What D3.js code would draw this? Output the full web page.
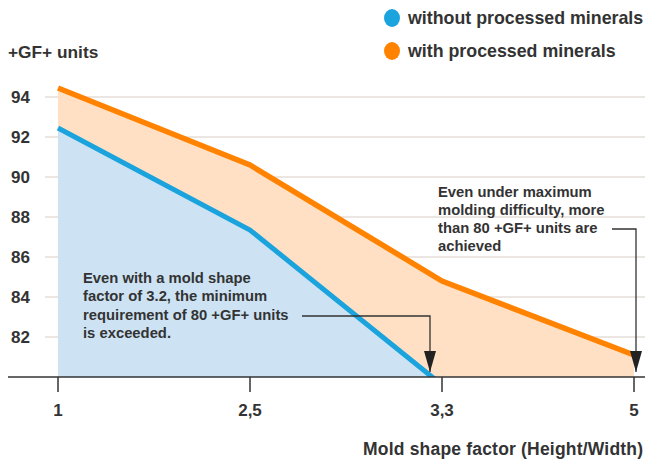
<!DOCTYPE html>
<html><head><meta charset="utf-8">
<script src="https://cdn.jsdelivr.net/npm/d3@7"></script>
<style>
body{margin:0;background:#fff}
svg text{font-family:"Liberation Sans",Arial,sans-serif;font-weight:bold;fill:#333}
svg text.note{font-size:14.8px;fill:#333}
</style></head><body>
<svg id="c" width="645" height="459"></svg>
<script>
const categories = ["1","2,5","3,3","5"];
const withoutMinerals = [92.45, 87.35, 79.6];
const withMinerals = [94.45, 90.6, 84.8, 81.1];
const yTicks = [82,84,86,88,90,92,94];
const seriesNames = ["without processed minerals","with processed minerals"];
const colors = {blue:"#1aa3dc", blueFill:"#cde3f4", orange:"#ff8300", orangeFill:"#ffe0c4"};

const svg = d3.select("#c");
const x = d3.scalePoint().domain(categories).range([58,634]);
const y = d3.scaleLinear().domain([80,94]).range([377,97]);

// gridlines
svg.append("g").selectAll("line").data(yTicks).join("line")
  .attr("x1",45).attr("x2",645).attr("y1",d=>y(d)).attr("y2",d=>y(d))
  .attr("stroke","#d8cec6").attr("stroke-width",1.2);
svg.append("g").selectAll("text").data(yTicks).join("text")
  .attr("x",30).attr("y",d=>y(d)+6).attr("text-anchor","end")
  .style("font-size","17px").text(d=>d);

svg.append("defs").append("clipPath").attr("id","clip")
  .append("rect").attr("x",0).attr("y",0).attr("width",645).attr("height",y(80));

const orangeData = withMinerals.map((v,i)=>({c:categories[i],v}));
const blueData = withoutMinerals.map((v,i)=>({c:categories[i],v}));
const area = d3.area().x(d=>x(d.c)).y0(y(80)).y1(d=>y(d.v));
const line = d3.line().x(d=>x(d.c)).y(d=>y(d.v));

const g = svg.append("g").attr("clip-path","url(#clip)");
g.append("path").datum(orangeData).attr("d",area).attr("fill",colors.orangeFill);
g.append("path").datum(blueData).attr("d",area).attr("fill",colors.blueFill);
g.append("path").datum(blueData).attr("d",line).attr("fill","none")
  .attr("stroke",colors.blue).attr("stroke-width",5);
g.append("path").datum(orangeData).attr("d",line).attr("fill","none")
  .attr("stroke",colors.orange).attr("stroke-width",5.5);

// x axis
svg.append("line").attr("x1",8).attr("x2",645).attr("y1",y(80)).attr("y2",y(80))
  .attr("stroke","#333").attr("stroke-width",1.5);
svg.append("g").selectAll("line").data(categories).join("line")
  .attr("x1",d=>x(d)).attr("x2",d=>x(d)).attr("y1",y(80)).attr("y2",y(80)+15)
  .attr("stroke","#333").attr("stroke-width",1.5);
svg.append("g").selectAll("text").data(categories).join("text")
  .attr("x",d=>x(d)).attr("y",416).attr("text-anchor","middle")
  .style("font-size","17px").text(d=>d);

svg.append("text").attr("x",643).attr("y",455).attr("text-anchor","end")
  .style("font-size","17.5px").attr("textLength",280).text("Mold shape factor (Height/Width)");
svg.append("text").attr("x",8).attr("y",58).style("font-size","17.3px").text("+GF+ units");

// legend
const leg = [{n:seriesNames[0],c:colors.blue,y:18},{n:seriesNames[1],c:colors.orange,y:51}];
leg.forEach(l=>{
  svg.append("ellipse").attr("cx",392).attr("cy",l.y).attr("rx",8).attr("ry",9).attr("fill",l.c);
  svg.append("text").attr("x",408).attr("y",l.y+6).style("font-size","17.8px").text(l.n);
});

// annotations
const note1 = ["Even with a mold shape","factor of 3.2, the minimum","requirement of 80 +GF+ units","is exceeded."];
const t1 = svg.append("text").attr("class","note");
note1.forEach((s,i)=>t1.append("tspan").attr("x",83).attr("y",283+i*18.4).text(s));
const note2 = ["Even under maximum","molding difficulty, more","than 80 +GF+ units are","achieved"];
const t2 = svg.append("text").attr("class","note");
note2.forEach((s,i)=>t2.append("tspan").attr("x",438).attr("y",197+i*18).text(s));

function arrow(pts){
  svg.append("path").attr("d",d3.line()(pts)).attr("fill","none").attr("stroke","#333").attr("stroke-width",1.3);
  const [tx,ty]=pts[pts.length-1];
  svg.append("path").attr("d",`M${tx-6},${ty-21}L${tx+6},${ty-21}L${tx},${ty}Z`).attr("fill","#222");
}
arrow([[302,316],[430,316],[430,372]]);
arrow([[612,229],[636,229],[636,372]]);
</script></body></html>
